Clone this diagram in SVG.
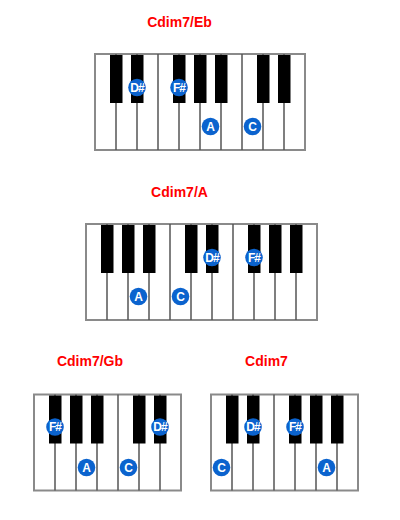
<svg xmlns="http://www.w3.org/2000/svg" width="400" height="520" viewBox="0 0 400 520">
<style>
.title{font-family:"Liberation Sans",Arial,sans-serif;font-weight:bold;font-size:14px;fill:#ff0000;text-anchor:middle}
.frame{fill:#ffffff;stroke:#8a8a8a;stroke-width:2}
.div{stroke:#555555;stroke-width:1.5}
.blk{fill:#000000}
.dot{fill:#0b63ce}
.lbl{font-family:"Liberation Sans",Arial,sans-serif;font-weight:bold;font-size:12px;fill:#ffffff;text-anchor:middle}
.sh{letter-spacing:-1px}
</style>
<rect width="400" height="520" fill="#ffffff"/>

<g id="kb1">
<text class="title" x="179.5" y="27">Cdim7/Eb</text>
<rect class="frame" x="95" y="54" width="210" height="96"/>
<g class="div">
<line x1="116" y1="54" x2="116" y2="150"/><line x1="137" y1="54" x2="137" y2="150"/><line x1="158" y1="54" x2="158" y2="150"/><line x1="179" y1="54" x2="179" y2="150"/><line x1="200" y1="54" x2="200" y2="150"/><line x1="221" y1="54" x2="221" y2="150"/><line x1="242" y1="54" x2="242" y2="150"/><line x1="263" y1="54" x2="263" y2="150"/><line x1="284" y1="54" x2="284" y2="150"/>
</g>
<g class="blk">
<rect x="110" y="55" width="12.5" height="48"/><rect x="131" y="55" width="12.5" height="48"/><rect x="173" y="55" width="12.5" height="48"/><rect x="194" y="55" width="12.5" height="48"/><rect x="215" y="55" width="12.5" height="48"/><rect x="257" y="55" width="12.5" height="48"/><rect x="278" y="55" width="12.5" height="48"/>
</g>
<circle class="dot" cx="137" cy="87.5" r="8.8"/><text class="lbl sh" x="137" y="91.8">D#</text>
<circle class="dot" cx="179" cy="87.5" r="8.8"/><text class="lbl sh" x="179" y="91.8">F#</text>
<circle class="dot" cx="210.5" cy="126.5" r="8.8"/><text class="lbl" x="210.5" y="130.8">A</text>
<circle class="dot" cx="252.5" cy="126.5" r="8.8"/><text class="lbl" x="252.5" y="130.8">C</text>
</g>

<g id="kb2">
<text class="title" x="179.5" y="197">Cdim7/A</text>
<rect class="frame" x="86" y="224" width="231" height="96"/>
<g class="div">
<line x1="107" y1="224" x2="107" y2="320"/><line x1="128" y1="224" x2="128" y2="320"/><line x1="149" y1="224" x2="149" y2="320"/><line x1="170" y1="224" x2="170" y2="320"/><line x1="191" y1="224" x2="191" y2="320"/><line x1="212" y1="224" x2="212" y2="320"/><line x1="233" y1="224" x2="233" y2="320"/><line x1="254" y1="224" x2="254" y2="320"/><line x1="275" y1="224" x2="275" y2="320"/><line x1="296" y1="224" x2="296" y2="320"/>
</g>
<g class="blk">
<rect x="101" y="225" width="12.5" height="48"/><rect x="122" y="225" width="12.5" height="48"/><rect x="143" y="225" width="12.5" height="48"/><rect x="185" y="225" width="12.5" height="48"/><rect x="206" y="225" width="12.5" height="48"/><rect x="248" y="225" width="12.5" height="48"/><rect x="269" y="225" width="12.5" height="48"/><rect x="290" y="225" width="12.5" height="48"/>
</g>
<circle class="dot" cx="138.5" cy="296.5" r="8.8"/><text class="lbl" x="138.5" y="300.8">A</text>
<circle class="dot" cx="180.5" cy="296.5" r="8.8"/><text class="lbl" x="180.5" y="300.8">C</text>
<circle class="dot" cx="212" cy="257.5" r="8.8"/><text class="lbl sh" x="212" y="261.8">D#</text>
<circle class="dot" cx="254" cy="257.5" r="8.8"/><text class="lbl sh" x="254" y="261.8">F#</text>
</g>

<g id="kb3">
<text class="title" x="90" y="366">Cdim7/Gb</text>
<rect class="frame" x="34" y="394.5" width="147" height="96"/>
<g class="div">
<line x1="55" y1="394.5" x2="55" y2="490.5"/><line x1="76" y1="394.5" x2="76" y2="490.5"/><line x1="97" y1="394.5" x2="97" y2="490.5"/><line x1="118" y1="394.5" x2="118" y2="490.5"/><line x1="139" y1="394.5" x2="139" y2="490.5"/><line x1="160" y1="394.5" x2="160" y2="490.5"/>
</g>
<g class="blk">
<rect x="49" y="395.5" width="12.5" height="48"/><rect x="70" y="395.5" width="12.5" height="48"/><rect x="91" y="395.5" width="12.5" height="48"/><rect x="133" y="395.5" width="12.5" height="48"/><rect x="154" y="395.5" width="12.5" height="48"/>
</g>
<circle class="dot" cx="55" cy="427" r="8.8"/><text class="lbl sh" x="55" y="431.3">F#</text>
<circle class="dot" cx="86.5" cy="467.5" r="8.8"/><text class="lbl" x="86.5" y="471.8">A</text>
<circle class="dot" cx="128.5" cy="467.5" r="8.8"/><text class="lbl" x="128.5" y="471.8">C</text>
<circle class="dot" cx="160" cy="427" r="8.8"/><text class="lbl sh" x="160" y="431.3">D#</text>
</g>

<g id="kb4">
<text class="title" x="266.5" y="366">Cdim7</text>
<rect class="frame" x="211" y="394.5" width="147" height="96"/>
<g class="div">
<line x1="232" y1="394.5" x2="232" y2="490.5"/><line x1="253" y1="394.5" x2="253" y2="490.5"/><line x1="274" y1="394.5" x2="274" y2="490.5"/><line x1="295" y1="394.5" x2="295" y2="490.5"/><line x1="316" y1="394.5" x2="316" y2="490.5"/><line x1="337" y1="394.5" x2="337" y2="490.5"/>
</g>
<g class="blk">
<rect x="226" y="395.5" width="12.5" height="48"/><rect x="247" y="395.5" width="12.5" height="48"/><rect x="289" y="395.5" width="12.5" height="48"/><rect x="310" y="395.5" width="12.5" height="48"/><rect x="331" y="395.5" width="12.5" height="48"/>
</g>
<circle class="dot" cx="221.5" cy="467.5" r="8.8"/><text class="lbl" x="221.5" y="471.8">C</text>
<circle class="dot" cx="253" cy="427" r="8.8"/><text class="lbl sh" x="253" y="431.3">D#</text>
<circle class="dot" cx="295" cy="427" r="8.8"/><text class="lbl sh" x="295" y="431.3">F#</text>
<circle class="dot" cx="326.5" cy="467.5" r="8.8"/><text class="lbl" x="326.5" y="471.8">A</text>
</g>

<g id="connectors"/>
</svg>
